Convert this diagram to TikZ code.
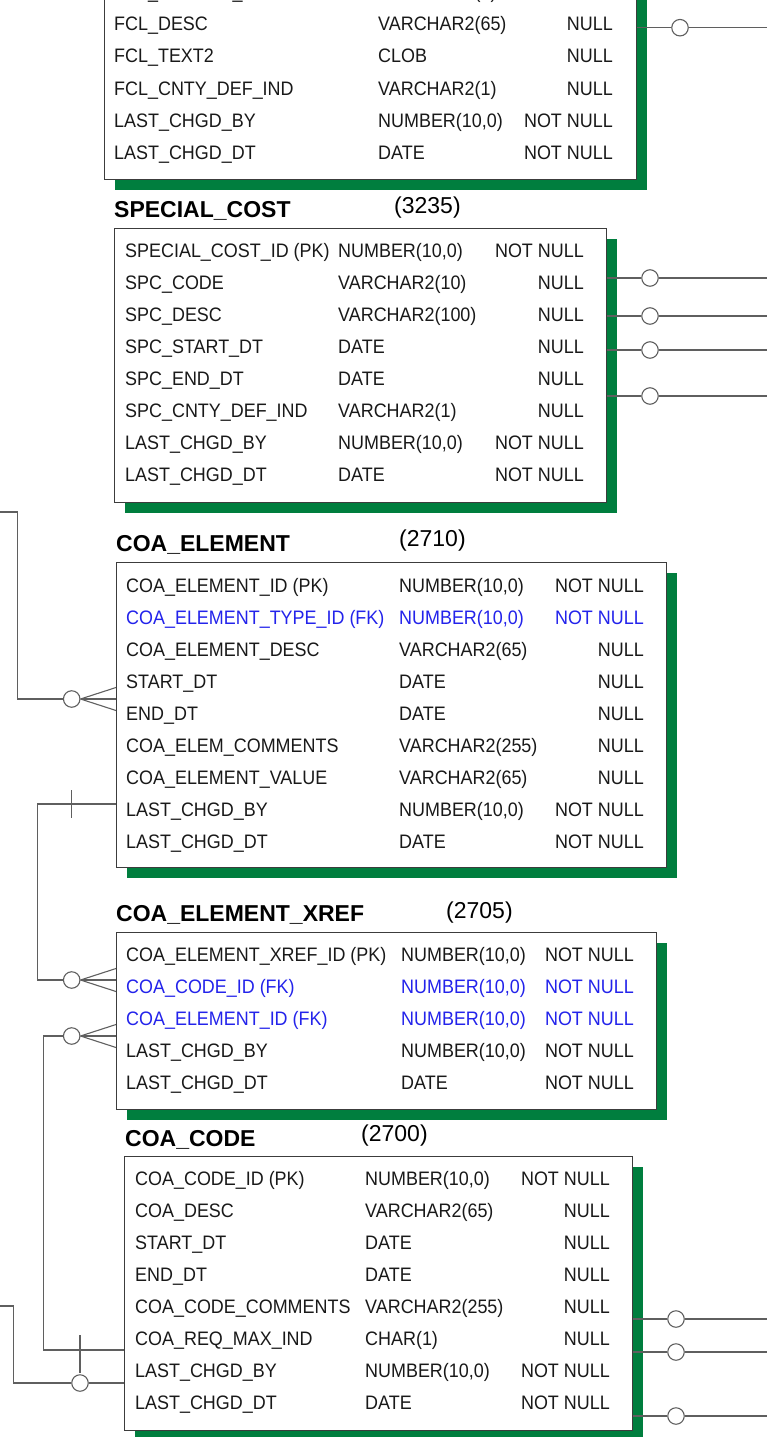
\documentclass[tikz,border=0pt]{standalone}
\usepackage{fontspec}
\setmainfont{Liberation Sans}
\newfontfamily\rowfont{Liberation Sans}[FakeStretch=0.92]
\usepackage{tikz}
\usetikzlibrary{shadows}
\definecolor{erwgreen}{RGB}{0,126,62}
\definecolor{erwline}{RGB}{95,95,95}
\definecolor{erwedge}{RGB}{60,60,60}
\definecolor{erwtext}{RGB}{25,25,25}
\definecolor{erwblue}{RGB}{35,35,235}
\tikzset{
  entity/.style={rectangle, draw=erwedge, fill=white, line width=1.2pt,
    inner sep=0pt, anchor=north west,
    general shadow={fill=erwgreen, shadow xshift=10pt, shadow yshift=-10pt}},
  colname/.style={anchor=base west, inner sep=0pt, text=erwtext,
    font=\rowfont\fontsize{19.5}{20}\selectfont},
  colnull/.style={colname, anchor=base east},
  ename/.style={anchor=base west, inner sep=0pt,
    font=\fontsize{23}{24}\selectfont\bfseries},
  enum/.style={anchor=base west, inner sep=0pt,
    font=\fontsize{23}{24}\selectfont},
  rel/.style={draw=erwline, line width=1.1pt},
  optc/.style={circle, draw=erwline, fill=white, line width=1.1pt,
    minimum size=16.5pt, inner sep=0pt}
}

\begin{document}
\begin{tikzpicture}[x=1pt, y=-1pt]
  \useasboundingbox (0,0) rectangle (767,1437);
  \coordinate (edge) at (767,0);

  % Entity boxes
  \node[entity, minimum width=532pt, minimum height=239pt] (fcl) at (104,-60) {};
  \node[entity, minimum width=492pt, minimum height=274pt] (sc) at (114,228) {};
  \node[entity, minimum width=550pt, minimum height=305pt] (elem) at (116,562) {};
  \node[entity, minimum width=540pt, minimum height=177pt] (xref) at (116,932) {};
  \node[entity, minimum width=508pt, minimum height=274pt] (code) at (124,1156) {};

  % Entity titles
  \node[ename] (sc-title) at (114,217) {SPECIAL\_COST};
  \node[enum] (sc-id) at (394,213) {(3235)};
  \node[ename] (elem-title) at (116,551) {COA\_ELEMENT};
  \node[enum] (elem-id) at (399,546) {(2710)};
  \node[ename] (xref-title) at (116,921) {COA\_ELEMENT\_XREF};
  \node[enum] (xref-id) at (446,918) {(2705)};
  \node[ename] (code-title) at (125,1146) {COA\_CODE};
  \node[enum] (code-id) at (361,1141) {(2700)};

  % Columns
  \foreach \fn/\ft/\fq/\fc [count=\i from 0] in {
      FCL\_DISPLAY\_IND/VARCHAR2(1)/NULL/erwtext,
      FCL\_DESC/VARCHAR2(65)/NULL/erwtext,
      FCL\_TEXT2/CLOB/NULL/erwtext,
      FCL\_CNTY\_DEF\_IND/VARCHAR2(1)/NULL/erwtext,
      LAST\_CHGD\_BY/{NUMBER(10,0)}/NOT NULL/erwtext,
      LAST\_CHGD\_DT/DATE/NOT NULL/erwtext} {
    \node[colname, text=\fc] (fcl-n\i) at (114,-1+32*\i) {\fn};
    \node[colname, text=\fc] (fcl-t\i) at (378,-1+32*\i) {\ft};
    \node[colnull, text=\fc] (fcl-q\i) at (613,-1+32*\i) {\fq};
  }
  \foreach \fn/\ft/\fq/\fc [count=\i from 0] in {
      SPECIAL\_COST\_ID (PK)/{NUMBER(10,0)}/NOT NULL/erwtext,
      SPC\_CODE/VARCHAR2(10)/NULL/erwtext,
      SPC\_DESC/VARCHAR2(100)/NULL/erwtext,
      SPC\_START\_DT/DATE/NULL/erwtext,
      SPC\_END\_DT/DATE/NULL/erwtext,
      SPC\_CNTY\_DEF\_IND/VARCHAR2(1)/NULL/erwtext,
      LAST\_CHGD\_BY/{NUMBER(10,0)}/NOT NULL/erwtext,
      LAST\_CHGD\_DT/DATE/NOT NULL/erwtext} {
    \node[colname, text=\fc] (sc-n\i) at (125,257+32*\i) {\fn};
    \node[colname, text=\fc] (sc-t\i) at (338,257+32*\i) {\ft};
    \node[colnull, text=\fc] (sc-q\i) at (584,257+32*\i) {\fq};
  }
  \foreach \fn/\ft/\fq/\fc [count=\i from 0] in {
      COA\_ELEMENT\_ID (PK)/{NUMBER(10,0)}/NOT NULL/erwtext,
      COA\_ELEMENT\_TYPE\_ID (FK)/{NUMBER(10,0)}/NOT NULL/erwblue,
      COA\_ELEMENT\_DESC/VARCHAR2(65)/NULL/erwtext,
      START\_DT/DATE/NULL/erwtext,
      END\_DT/DATE/NULL/erwtext,
      COA\_ELEM\_COMMENTS/VARCHAR2(255)/NULL/erwtext,
      COA\_ELEMENT\_VALUE/VARCHAR2(65)/NULL/erwtext,
      LAST\_CHGD\_BY/{NUMBER(10,0)}/NOT NULL/erwtext,
      LAST\_CHGD\_DT/DATE/NOT NULL/erwtext} {
    \node[colname, text=\fc] (elem-n\i) at (126,592+32*\i) {\fn};
    \node[colname, text=\fc] (elem-t\i) at (399,592+32*\i) {\ft};
    \node[colnull, text=\fc] (elem-q\i) at (644,592+32*\i) {\fq};
  }
  \foreach \fn/\ft/\fq/\fc [count=\i from 0] in {
      COA\_ELEMENT\_XREF\_ID (PK)/{NUMBER(10,0)}/NOT NULL/erwtext,
      COA\_CODE\_ID (FK)/{NUMBER(10,0)}/NOT NULL/erwblue,
      COA\_ELEMENT\_ID (FK)/{NUMBER(10,0)}/NOT NULL/erwblue,
      LAST\_CHGD\_BY/{NUMBER(10,0)}/NOT NULL/erwtext,
      LAST\_CHGD\_DT/DATE/NOT NULL/erwtext} {
    \node[colname, text=\fc] (xref-n\i) at (126,961+32*\i) {\fn};
    \node[colname, text=\fc] (xref-t\i) at (401,961+32*\i) {\ft};
    \node[colnull, text=\fc] (xref-q\i) at (634,961+32*\i) {\fq};
  }
  \foreach \fn/\ft/\fq/\fc [count=\i from 0] in {
      COA\_CODE\_ID (PK)/{NUMBER(10,0)}/NOT NULL/erwtext,
      COA\_DESC/VARCHAR2(65)/NULL/erwtext,
      START\_DT/DATE/NULL/erwtext,
      END\_DT/DATE/NULL/erwtext,
      COA\_CODE\_COMMENTS/VARCHAR2(255)/NULL/erwtext,
      COA\_REQ\_MAX\_IND/CHAR(1)/NULL/erwtext,
      LAST\_CHGD\_BY/{NUMBER(10,0)}/NOT NULL/erwtext,
      LAST\_CHGD\_DT/DATE/NOT NULL/erwtext} {
    \node[colname, text=\fc] (code-n\i) at (135,1185+32*\i) {\fn};
    \node[colname, text=\fc] (code-t\i) at (365,1185+32*\i) {\ft};
    \node[colnull, text=\fc] (code-q\i) at (610,1185+32*\i) {\fq};
  }

  % Relationships leaving to the right
  \node[optc] (fcl-r1) at (680,27.7) {};
  \draw[rel] (fcl.east |- fcl-r1) -- (fcl-r1) -- (fcl-r1 -| edge);
  \foreach \y [count=\i] in {278,316,350,396} {
    \node[optc] (sc-r\i) at (650,\y) {};
    \draw[rel] (sc.east |- sc-r\i) -- (sc-r\i) -- (sc-r\i -| edge);
  }
  \foreach \y [count=\i] in {1319,1352,1416} {
    \node[optc] (code-r\i) at (676,\y) {};
    \draw[rel] (code.east |- code-r\i) -- (code-r\i) -- (code-r\i -| edge);
  }

  % Relationships on the left
  \coordinate (in1) at (0,512);
  \node[optc] (elem-o) at (71.7,699) {};
  \draw[rel] (in1) -| (17.7,699) -- (elem-o);
  \foreach \dy in {-11.5,0,11.5}
    \draw[rel] (elem-o.east) -- ([yshift=\dy pt]elem.west |- elem-o);

  \coordinate (elem-one) at (71.7,804);
  \node[optc] (xref-o1) at (71.7,980) {};
  \draw[rel] (elem.west |- elem-one) -| (37.7,980) -- (xref-o1);
  \draw[rel] ([yshift=14pt]elem-one) -- ([yshift=-14pt]elem-one);
  \foreach \dy in {-11.5,0,11.5}
    \draw[rel] (xref-o1.east) -- ([yshift=\dy pt]xref.west |- xref-o1);

  \coordinate (code-one) at (80,1350);
  \node[optc] (xref-o2) at (71.7,1036) {};
  \draw[rel] (xref-o2) -| (43.3,1350) -- (code.west |- code-one);
  \draw[rel] ([yshift=15pt]code-one) -- ([yshift=-23pt]code-one);
  \foreach \dy in {-11.5,0,11.5}
    \draw[rel] (xref-o2.east) -- ([yshift=\dy pt]xref.west |- xref-o2);

  \coordinate (in2) at (0,1306);
  \node[optc] (code-o) at (80,1383) {};
  \draw[rel] (in2) -| (13.3,1383) -- (code-o) -- (code.west |- code-o);
\end{tikzpicture}
\end{document}
